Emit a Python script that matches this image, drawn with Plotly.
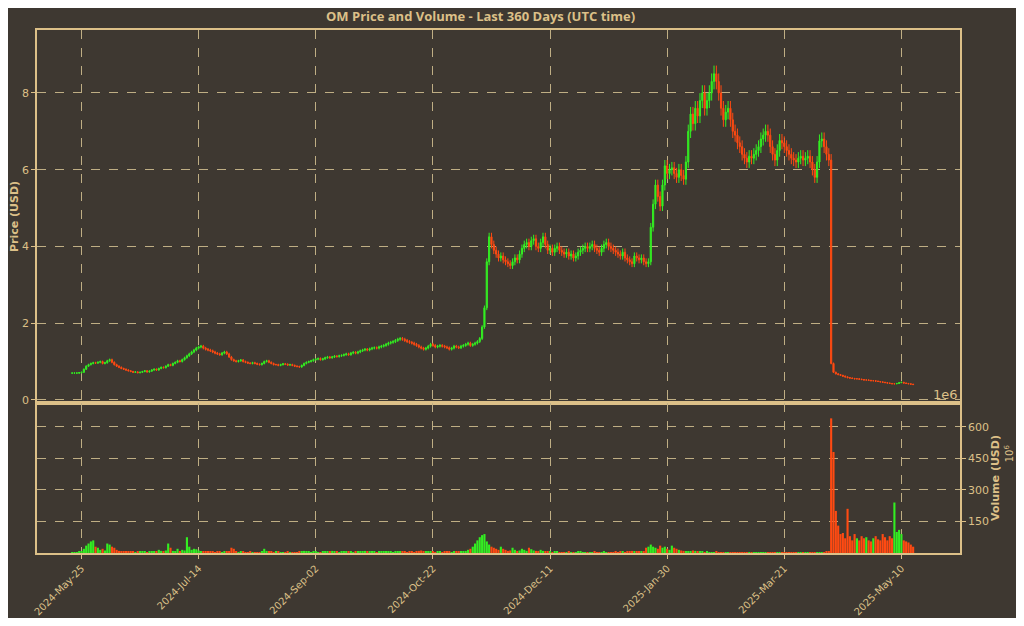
import pandas as pd
import plotly.graph_objects as go
from plotly.subplots import make_subplots

start = "2024-05-21"
closes = [
0.70,0.70,0.70,0.71,0.72,0.80,0.88,0.92,0.95,0.97,
0.96,0.98,1.00,0.95,0.97,1.02,1.05,0.98,0.92,0.88,
0.85,0.82,0.80,0.78,0.76,0.74,0.72,0.73,0.71,0.72,
0.74,0.76,0.73,0.75,0.78,0.80,0.78,0.82,0.85,0.84,
0.88,0.92,0.90,0.95,0.98,1.02,1.00,1.05,1.10,1.15,
1.20,1.25,1.30,1.35,1.38,1.40,1.35,1.32,1.30,1.28,
1.25,1.22,1.20,1.18,1.22,1.25,1.20,1.12,1.05,1.02,
1.00,1.02,1.04,1.00,0.98,0.96,0.95,0.97,0.95,0.93,
0.92,0.95,1.00,1.02,0.98,0.95,0.92,0.92,0.90,0.92,
0.94,0.93,0.91,0.92,0.90,0.88,0.87,0.86,0.90,0.95,
0.98,1.00,1.02,1.05,1.06,1.08,1.05,1.07,1.10,1.12,
1.10,1.12,1.14,1.13,1.15,1.16,1.18,1.20,1.18,1.22,
1.24,1.22,1.25,1.28,1.30,1.32,1.30,1.33,1.35,1.36,
1.35,1.38,1.40,1.42,1.45,1.48,1.50,1.52,1.55,1.58,
1.60,1.58,1.55,1.52,1.50,1.48,1.45,1.42,1.38,1.35,
1.32,1.35,1.40,1.45,1.42,1.38,1.40,1.42,1.40,1.38,
1.36,1.32,1.35,1.40,1.38,1.36,1.40,1.42,1.45,1.48,
1.42,1.45,1.48,1.52,1.60,1.90,2.40,3.60,4.25,4.05,
3.90,3.80,3.70,3.75,3.65,3.60,3.55,3.50,3.60,3.70,
3.65,3.80,3.95,4.05,4.10,4.00,4.15,4.20,4.00,3.95,
4.10,4.25,4.05,3.90,3.95,3.85,3.95,4.00,3.90,3.85,
3.80,3.85,3.75,3.80,3.70,3.75,3.85,3.90,3.95,4.00,
3.95,4.00,4.05,3.95,3.90,3.85,3.95,4.05,4.10,4.00,
3.95,3.90,3.85,3.80,3.75,3.85,3.70,3.65,3.60,3.55,
3.75,3.70,3.65,3.70,3.60,3.55,3.60,4.50,5.10,5.60,
5.30,5.05,5.60,6.10,5.90,6.00,6.05,5.90,5.80,6.00,
5.85,5.75,6.20,7.00,7.45,7.20,7.60,7.40,7.80,8.00,
7.60,7.80,8.00,8.30,8.50,8.30,8.00,7.60,7.30,7.50,
7.60,7.30,7.00,6.90,6.70,6.60,6.40,6.30,6.20,6.35,
6.30,6.40,6.50,6.60,6.80,6.90,7.00,6.90,6.60,6.40,
6.25,6.50,6.76,6.70,6.60,6.50,6.40,6.30,6.25,6.20,
6.30,6.35,6.25,6.30,6.35,6.20,6.00,5.80,6.20,6.75,
6.80,6.60,6.40,6.25,0.95,0.72,0.68,0.66,0.64,0.62,
0.60,0.58,0.57,0.56,0.55,0.55,0.54,0.53,0.52,0.52,
0.51,0.50,0.50,0.49,0.48,0.47,0.46,0.45,0.44,0.43,
0.42,0.42,0.43,0.45,0.46,0.44,0.43,0.42,0.41,0.40]

volumes = [  # millions USD
3,3,4,5,8,20,35,45,55,60,
30,25,15,20,12,45,40,30,25,15,
10,8,6,5,6,5,8,4,5,6,
5,6,4,5,8,6,7,15,10,8,
12,45,25,10,8,20,6,15,12,75,
30,15,20,18,12,8,6,5,8,6,
5,4,6,5,4,5,6,8,25,20,
5,4,6,5,4,3,5,4,3,4,
4,5,20,10,8,5,4,6,5,4,
3,4,5,3,4,3,4,5,8,10,
6,5,4,6,5,4,3,5,6,5,
8,10,6,5,4,6,5,8,6,5,
4,5,6,5,8,10,6,5,6,5,
4,5,6,8,5,6,5,4,6,5,
8,6,5,4,6,5,4,8,10,12,
6,5,8,6,5,4,6,5,4,5,
6,5,4,8,6,5,6,8,10,15,
20,30,45,60,75,85,90,55,40,30,
25,20,15,30,20,15,10,12,25,15,
10,12,20,15,10,25,18,12,10,8,
15,10,8,6,5,4,6,5,4,3,
4,3,5,4,3,4,5,6,4,3,
3,4,3,5,4,3,4,5,4,3,
4,3,5,4,6,5,4,6,8,10,
8,6,5,8,6,25,30,40,30,25,
20,35,25,30,20,15,35,25,20,15,
12,10,8,6,8,12,10,8,6,5,
4,5,4,3,4,5,4,3,4,3,
3,4,3,4,3,4,3,2,3,4,
3,2,3,4,3,2,3,4,3,4,
3,2,3,2,3,2,3,2,3,2,
2,3,2,3,2,3,2,3,2,3,
3,2,5,8,640,480,200,130,90,95,
70,210,80,60,90,70,60,80,70,75,
60,55,70,80,65,60,90,75,60,80,
70,240,100,110,90,60,55,50,40,30]

tick_dates = ["2024-05-25","2024-07-14","2024-09-02","2024-10-22",
              "2024-12-11","2025-01-30","2025-03-21","2025-05-10"]
tick_labels = ["2024-May-25","2024-Jul-14","2024-Sep-02","2024-Oct-22",
               "2024-Dec-11","2025-Jan-30","2025-Mar-21","2025-May-10"]

dates = pd.date_range(start, periods=len(closes), freq="D")
opens = [closes[0]] + closes[:-1]
highs = [max(o, c) * 1.025 for o, c in zip(opens, closes)]
lows = [min(o, c) * 0.975 for o, c in zip(opens, closes)]
GREEN, RED = "#33ee22", "#ff4a12"
vcolors = [GREEN if c >= o else RED for o, c in zip(opens, closes)]

TAN = "#dcc088"
GRID = "#bfae84"
BG = "#3e3831"

fig = make_subplots(rows=2, cols=1, shared_xaxes=True, vertical_spacing=0,
                    row_heights=[373, 150])
fig.add_trace(go.Candlestick(x=dates, open=opens, high=highs, low=lows, close=closes,
                             increasing=dict(line=dict(color=GREEN, width=1), fillcolor=GREEN),
                             decreasing=dict(line=dict(color=RED, width=1), fillcolor=RED),
                             whiskerwidth=0, showlegend=False), row=1, col=1)
fig.add_trace(go.Bar(x=dates, y=volumes, marker_color=vcolors, marker_line_width=0,
                     showlegend=False), row=2, col=1)

xr = ["2024-05-06", "2025-06-04"]
axcommon = dict(showgrid=True, gridcolor=GRID, griddash="dash", gridwidth=0.6,
                showline=True, linecolor=TAN, linewidth=1.5, mirror=True, automargin=False,
                zeroline=False, tickfont=dict(color=TAN, size=11, family="DejaVu Sans"))
fig.update_xaxes(range=xr, tickvals=tick_dates, ticktext=tick_labels,
                 rangeslider_visible=False, **axcommon)
fig.update_xaxes(tickangle=-45, ticks="outside", tickcolor=TAN, ticklen=4,
                 tickfont=dict(size=10), row=2, col=1)
fig.update_xaxes(showticklabels=False, row=1, col=1)
fig.update_yaxes(range=[-0.08, 9.64], tickvals=[0, 2, 4, 6, 8], ticks="outside", tickcolor=TAN,
                 ticklen=4,
                 title=dict(text="<b>Price (USD)</b>", font=dict(color=TAN, size=11), standoff=2),
                 row=1, col=1, **axcommon)
fig.update_yaxes(range=[0, 713], tickvals=[150, 300, 450, 600], side="right",
                 ticks="outside", tickcolor=TAN, ticklen=4,
                 title=dict(text="<b>Volume (USD)</b>", font=dict(color=TAN, size=11), standoff=0),
                 row=2, col=1, **axcommon)

fig.add_annotation(text="1e6", xref="paper", yref="paper", x=1.0, y=0.285,
                   xanchor="right", yanchor="bottom", showarrow=False,
                   font=dict(color=TAN, size=13))
fig.add_annotation(text="10<sup>6</sup>", xref="paper", yref="paper", x=1.062, y=0.17,
                   textangle=-90, showarrow=False, font=dict(color=TAN, size=10))
fig.add_annotation(text="<b>OM Price and Volume - Last 360 Days (UTC time)</b>",
                   xref="paper", yref="paper", x=0.48, y=1.0, yshift=3,
                   xanchor="center", yanchor="bottom", showarrow=False,
                   font=dict(color=TAN, size=13, family="Open Sans"))

fig.update_layout(
    width=1008, height=610, paper_bgcolor=BG, plot_bgcolor=BG,
    margin=dict(l=29, r=56, t=22, b=65),
    bargap=0.1,
    font=dict(family="DejaVu Sans", color=TAN),
)
fig.write_html("out.html")
